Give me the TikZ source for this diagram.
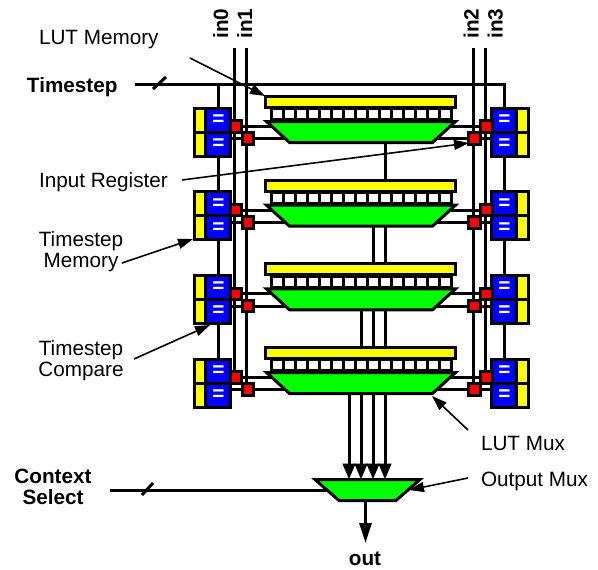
\documentclass[tikz,border=0pt]{standalone}
\usepackage{fontspec}
\setmainfont{Liberation Sans}
\usetikzlibrary{arrows.meta,backgrounds}
\definecolor{lutyellow}{RGB}{255,255,0}
\definecolor{lutgreen}{RGB}{0,255,0}
\definecolor{cmpblue}{RGB}{0,0,255}
\definecolor{regred}{RGB}{255,0,0}
\tikzset{
  box/.style={draw=black,line width=3pt,inner sep=0pt,outer sep=0pt,rectangle},
  memstrip/.style={box,fill=lutyellow,minimum width=190pt,minimum height=11pt},
  cell/.style={box,fill=white,minimum width=12pt,minimum height=11pt},
  tsmem/.style={box,fill=lutyellow,minimum width=12pt,minimum height=24pt},
  tscmp/.style={box,fill=cmpblue,minimum width=24.7pt,minimum height=24pt,text=white,font=\fontsize{20.7}{20.7}\selectfont\bfseries},
  reg/.style={box,fill=regred,minimum width=11.5pt,minimum height=11.5pt},
  muxframe/.style={rectangle,inner sep=0pt,outer sep=0pt},
  muxshape/.style={draw=black,line width=3pt,fill=lutgreen,line join=miter},
  wire/.style={line width=3pt},
  lead/.style={line width=1.6pt,-{Triangle[length=15pt,width=10pt]}},
  bus/.style={line width=3pt,-{Triangle[length=16pt,width=12.5pt]}},
  lab/.style={inner sep=0pt,outer sep=0pt,font=\fontsize{20.7}{20.7}\selectfont},
  blab/.style={lab,font=\fontsize{20.7}{20.7}\selectfont\bfseries}
}
\begin{document}
\begin{tikzpicture}[x=1pt,y=-1pt]
\useasboundingbox (0,0) rectangle (598,570);
% rows
\foreach \i/\r in {1/95,2/178.67,3/262.33,4/346}{
  \node[memstrip] (mem\i) at (360.5,\r+7) {};
  \foreach \k in {0,...,14}{
    \node[cell] (cell\i-\k) at ({277.2+12*\k},\r+19.2) {};
  }
  \node[muxframe,minimum width=189pt,minimum height=21pt] (lmux\i) at (361,\r+37) {};
  \draw[muxshape] (lmux\i.north west) -- (lmux\i.north east)
     -- ([xshift=-23pt]lmux\i.south east) -- ([xshift=23pt]lmux\i.south west) -- cycle;
  \node[tsmem] (lya\i) at (200,\r+25) {};
  \node[tsmem] (lyb\i) at (200,\r+49) {};
  \node[tscmp] (lba\i) at (218.3,\r+25) {=};
  \node[tscmp] (lbb\i) at (218.3,\r+49) {=};
  \node[tscmp] (rba\i) at (504.3,\r+25) {=};
  \node[tscmp] (rbb\i) at (504.3,\r+49) {=};
  \node[tsmem] (rya\i) at (522.6,\r+25) {};
  \node[tsmem] (ryb\i) at (522.6,\r+49) {};
  \node[reg] (la\i) at (236,\r+31.5) {};
  \node[reg] (lb\i) at (248,\r+43.7) {};
  \node[reg] (ra\i) at (486.3,\r+31.5) {};
  \node[reg] (rb\i) at (474.7,\r+43.7) {};
}
\node[muxframe,minimum width=105pt,minimum height=21pt] (omux) at (367.5,490) {};
\draw[muxshape] (omux.north west) -- (omux.north east)
   -- ([xshift=-24pt]omux.south east) -- ([xshift=24pt]omux.south west) -- cycle;
% labels
\node[lab,anchor=base west] (tLUTmem) at (39,44) {LUT Memory};
\node[blab,anchor=base west] (tTime) at (27,92) {Timestep};
\node[lab,anchor=base west] (tInReg) at (39,187) {Input Register};
\node[lab,align=center,anchor=base] (tTMem) at (81,267) {Timestep\\[-0.2pt]Memory};
\node[lab,align=center,anchor=base] (tTCmp) at (81,376) {Timestep\\[-0.2pt]Compare};
\node[lab,anchor=base west] (tLMux) at (481,450) {LUT Mux};
\node[lab,anchor=base west] (tOMux) at (481,486) {Output Mux};
\node[blab,align=center,anchor=base] (tCtx) at (53,504) {Context\\[-0.2pt]Select};
\node[blab,anchor=base] (tOut) at (365,565) {out};
\node[blab,rotate=90,anchor=base west] (tin0) at (228,38.5) {in0};
\node[blab,rotate=90,anchor=base west] (tin1) at (252,38.5) {in1};
\node[blab,rotate=90,anchor=base west] (tin2) at (478.5,38.5) {in2};
\node[blab,rotate=90,anchor=base west] (tin3) at (502.5,38.5) {in3};
% free ends
\coordinate (in0t) at (234,48);
\coordinate (in1t) at (246,48);
\coordinate (in2t) at (473,48);
\coordinate (in3t) at (485,48);
\coordinate (tsL) at (135,84.5);
\coordinate (tsR) at (504.3,84.5);
\coordinate (ctxL) at (110,490);
\coordinate (outTip) at (365.5,543);
\begin{pgfonlayer}{background}
  \foreach \n/\e in {in0t/la4,in1t/lb4,in2t/rb4,in3t/ra4}{
    \draw[wire] (\n) -- (\n |- \e.center);
  }
  \draw[wire] (tsL) -- (tsR) -- (rba1.north);
  \draw[wire] (tsL -| lba1.north) -- (lba1.north);
  \foreach \i/\j in {1/2,2/3,3/4}{
    \draw[wire] (lbb\i.south) -- (lba\j.north);
    \draw[wire] (rbb\i.south) -- (rba\j.north);
  }
  \foreach \i in {1,...,4}{
    \draw[wire] (la\i.center) -- (la\i.center -| lmux\i.center);
    \draw[wire] (lbb\i.center |- lb\i.center) -- (lb\i.center -| lmux\i.center);
    \draw[wire] (ra\i.center) -- (ra\i.center -| lmux\i.center);
    \draw[wire] (rbb\i.center |- rb\i.center) -- (rb\i.center -| lmux\i.center);
  }
  % local buses between the LUTs
  \draw[wire] (lmux1.center -| 385,0) -- (mem2.north -| 385,0);
  \foreach \x in {373,385}{\draw[wire] (lmux2.center -| \x,0) -- (mem3.north -| \x,0);}
  \foreach \x in {361,373,385}{\draw[wire] (lmux3.center -| \x,0) -- (mem4.north -| \x,0);}
  \draw[wire] (ctxL) -- (ctxL -| omux.center);
\end{pgfonlayer}
\foreach \x in {349,361,373,385}{\draw[bus] (lmux4.south -| \x,0) -- (omux.north -| \x,0);}
\draw[line width=3pt,-{Triangle[length=20pt,width=12pt]}] (outTip |- omux.south) -- (outTip);
% bus slashes
\draw[wire] (153,89) -- (166,77);
\draw[wire] (142,495) -- (153,483);
% leaders
\coordinate (a1) at (190,58); \coordinate (a2) at (182,180);
\coordinate (a3) at (122,263); \coordinate (a4) at (134,359);
\coordinate (a5) at (468,430); \coordinate (a6) at (468,478);
\draw[lead] (a1) -- (265,96);
\draw[lead] (a2) -- (469,143);
\draw[lead] (a3) -- (193,239);
\draw[lead] (a4) -- (210,325);
\draw[lead] (a5) -- (432,396);
\draw[lead] (a6) -- (409,490);
\end{tikzpicture}
\end{document}
